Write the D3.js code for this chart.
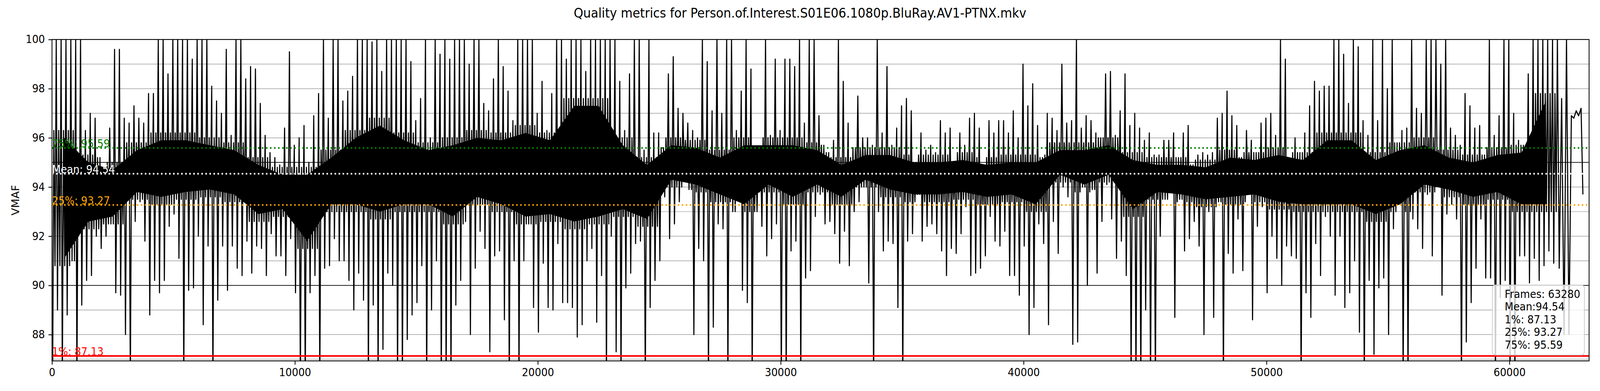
<!DOCTYPE html>
<html>
<head>
<meta charset="utf-8">
<script src="https://cdn.jsdelivr.net/npm/d3@7"></script>
<style>
  html, body { margin: 0; padding: 0; background: #fff; overflow: hidden; }
  #chart svg { display: block; width: 100vw; height: 100vh; }
  text { font-family: "DejaVu Sans", sans-serif; }
</style>
</head>
<body>
<div id="chart"></div>
<script>
// chart values
const chartTitle = "Quality metrics for Person.of.Interest.S01E06.1080p.BluRay.AV1-PTNX.mkv";
const totalFrames = 63280;
const bucketFrames = 200; // every entry below covers 200 frames

// highest vmaf seen inside each 200 frame bucket
const vmafHigh = [
  100,100,100,100,100,100,96.3,97,96.8,95.2, 94.3,96.4,99.6,99.6,96.8,96.6,97.3,96.8,96.6,97.8,
  97.8,100,100,98.6,100,100,100,100,99.2,100, 100,100,98.1,97.5,97,99.6,96.1,100,100,98.4,
  98.9,98.8,97.4,96.1,95.4,95.2,94.9,96.4,99.5,95.7, 96,96.5,95,96.9,97.8,100,96.8,100,100,97.5,
  97.9,98.5,100,100,100,99.9,100,98.7,100,100, 100,100,100,99.1,96.7,97.6,100,96,100,99.4,
  100,99.2,100,100,100,99,100,100,97.4,97.1, 98.4,100,98.9,97.9,96.7,100,100,100,100,97,
  98.3,96.3,97.8,100,100,99.2,100,100,100,98.7, 100,100,100,100,100,100,98.3,96.3,98.6,100,
  100,95.5,100,96.2,96.2,95.6,98.6,99.3,97.2,97, 96.6,96.3,96,100,99.1,97.1,100,97,100,100,
  96.3,97.9,100,98.8,95.3,95.3,100,96.1,99.2,96.3, 99.2,99.2,98.9,100,96.6,100,100,96.9,95.7,95.4,
  95.9,100,98.3,96.6,95.6,97.7,96,96,95.7,100, 96.2,98.9,95.7,96.4,97.3,97.6,97.1,95,96.2,95.5,
  95.7,95.4,96.7,96.2,96.4,94.8,96.2,95.7,96.8,97, 96.4,94.9,96.7,96.2,96.7,96.7,96.2,97.1,96,99,
  97.3,98.2,96.5,95.2,97,96.8,96.3,99,96.6,96.7, 100,96.4,96.9,96.7,96.2,96,98.6,98.7,96.1,97.1,
  98.6,96.5,97,96.4,95.9,96.2,95.3,95.3,95.9,95.9, 96.2,95.2,96.2,96.5,94.9,95.3,95.4,95.3,95.4,96.8,
  97,97.9,96.9,96.5,95.2,96.3,95.9,95.4,96.6,96.8, 97,96.1,100,99.2,94,96,95.4,96.2,97.3,98.3,
  97.9,98.1,98.1,100,100,99.4,97.4,100,99.7,96.7, 96.1,100,96.7,100,98,100,95.8,96.3,96.4,100,
  97.2,97,100,100,100,99,100,96.4,96.1,95.7, 97.8,97.3,96.4,96.5,95.3,100,96.1,96.9,100,100,
  97,95.9,95.7,98.6,100,100,100,100,100,100, 97.6,100,96.9,97.1,97.2,97.7,97.1
];

// lowest vmaf seen inside each 200 frame bucket (86 = falls below the axis)
const vmafLow = [
  86,89,86,88.8,91,86,89.2,90.2,90.4,92, 91.5,92,92.5,89.7,89.6,88,86,92.6,93.4,91.8,
  88.8,90.2,89.7,90.2,92.4,92.9,91.1,86,89.8,89.9, 92,88.4,91.6,86,89.4,91.6,89.8,91.6,90.7,90.4,
  91.8,90.5,91.6,91.5,90.4,92.1,91.2,91.2,90.4,91.9, 89.7,86,86,89.7,90.4,86,90.7,90.8,91.9,91,
  91,90.2,89,90.5,89.4,86,89.2,86,87.4,90.5, 90,86,86,87.8,88.8,89.3,90.8,86,89,91,
  86,86,86,89.2,90.2,92.6,88,90.7,92.2,91.5, 87.3,91.2,91.4,88.6,86,91,86,91,92.5,89.1,
  88.1,90.9,89.1,89,91.7,89.3,89.3,89.1,87.9,88.4, 91,91.5,88.5,90.4,86,92,87.3,86,89.9,90.5,
  91.7,91.8,86,89.1,90.2,91,93.6,91.9,92.5,93.4, 94.7,93.9,88,91.5,91,86,88.3,92.5,92.3,86,
  93,93.5,89.8,89.3,86,93,92.4,91.2,91.9,92.5, 86,86,91.4,91.8,86,90.3,90.6,92.8,93.7,92.5,
  92.6,92.1,90.9,92.2,90.8,93,93.4,94,90.1,86, 93,91.4,91.8,91.7,89.1,86,91.8,92.1,93.7,91.8,
  92.4,92.5,92.1,91.4,90.4,91.5,91.3,92.1,93.2,90.4, 90.5,90.7,91.2,92.8,91.8,91.6,92.2,90.4,90.4,89.6,
  91.6,88,89.1,92.5,91.7,88.4,92.6,91.3,94,93.6, 87.6,87.7,94,90,93.9,90.5,92.6,94.1,92.7,91.1,
  91.8,90.4,86,86,86,89,86,86,92,93.5, 94,88.7,93.5,91.4,91.9,92.6,91.6,88,93,88.7,
  93.4,86,91.3,90.5,92.7,90.6,94.3,88.6,92.4,93.2, 89.7,92,91.1,90,91.6,91.2,91.1,86,89.7,88.7,
  91.7,90.4,92.8,92,89.6,92,89.1,89.7,91,88.1, 86,90.2,87.2,89.9,90.3,88,92.3,93.4,86,86,
  92.7,92.3,91.5,93.7,91.2,94.3,89.6,92.9,93.3,92.7, 86,87.7,89.3,90.7,92.7,90.3,90.3,86,89.5,90.2,
  86,86,91.2,91.2,90.1,91.1,90.2,90.8,91.4,90.9, 90.7,88,88,96.8,96.9,93.7,95.6
];

// where the trace is densest in every 1000 frames (null = no dense band)
const coreFrames = 1000;
const coreHigh = [
  96.3,95.3,95,95.8,96.2,96.2,96,95.8, 95.2,94.8,94.8,95.5,96.3,96.8,96.2,95.8,
  96,96.3,96.2,96.5,96.2,97.6,97.6,96, 95.2,96,95.9,95.5,96,96,96,95.8,
  95.2,95.6,95.6,95.3,95.3,95.4,95.2,95.3, 95.3,95.8,95.8,96,95.4,95.2,95.2,95.1,
  95.5,95.4,95.6,95.4,96.2,96.2,95.4,95.8, 96,95.5,95.3,95.6,95.7,97.8,null
];
const coreLow = [
  90.8,92.3,92.5,93.5,93.3,93.5,93.6,93.4, 92.6,92.8,91.5,93,93,92.7,93,93,
  92.5,93.3,93,92.5,92.6,92.3,92.5,92.8, 92.4,94,93.8,93.4,93,93.8,93.3,93.8,
  93.3,94,93.6,93.4,93.4,93.5,93.3,93.4, 93,94.2,93.8,94.2,92.8,93.5,93.4,93.2,
  93.3,93.4,93.1,93,93,93,92.6,93, 93.8,93.6,93.3,93.5,93,93,null
];

const statNames = ["1%", "25%", "Mean", "75%"];
const statValues = [87.13, 93.27, 94.54, 95.59];
const legendLines = ["Frames: 63280", "Mean:94.54", "1%: 87.13", "25%: 93.27", "75%: 95.59"];

const yDomain = [86.93, 100];
const yTicks = [88, 90, 92, 94, 96, 98, 100];
const xTicks = [0, 10000, 20000, 30000, 40000, 50000, 60000];

// styling for the statistic lines, keyed by name
const statStyle = {
  "1%": {color: "#ff0000", dash: null},
  "25%": {color: "#ffa500", dash: "4.2,6.9"},
  "Mean": {color: "#ffffff", dash: "4.2,6.9"},
  "75%": {color: "#008000", dash: "4.2,6.9"}
};

const W = 4400, H = 1000;
const margin = {top: 101, right: 30, bottom: 77, left: 143};
const fontSize = 27.8;
const coreInset = 0.3; // the solid part sits a bit inside the dense band

// the svg keeps a 4400x1000 drawing space and is stretched over the window
const svg = d3.select("#chart").append("svg")
  .attr("viewBox", `0 0 ${W} ${H}`)
  .attr("preserveAspectRatio", "none")
  .style("background", "#fff");

const x = d3.scaleLinear().domain([0, totalFrames]).range([margin.left, W - margin.right]);
const y = d3.scaleLinear().domain(yDomain).range([H - margin.bottom, margin.top]);
const [px0, px1] = x.range();
const [py0, py1] = y.range();

svg.append("clipPath").attr("id", "plot-clip")
  .append("rect")
  .attr("x", px0).attr("y", py1)
  .attr("width", px1 - px0).attr("height", py0 - py1);

// grid, every unit in gray, every five in black
const gridValues = d3.range(Math.ceil(yDomain[0]), yDomain[1]);
svg.append("g").selectAll("line")
  .data(gridValues)
  .join("line")
  .attr("x1", px0).attr("x2", px1)
  .attr("y1", d => y(d)).attr("y2", d => y(d))
  .attr("stroke", d => d % 5 === 0 ? "#000" : "#8a8a8a")
  .attr("stroke-width", d => d % 5 === 0 ? 1.8 : 1.2);

const plot = svg.append("g").attr("clip-path", "url(#plot-clip)");

// solid middle of the dense band
const corePoints = coreHigh.map((hi, i) => [
  Math.min(i * coreFrames + coreFrames / 2, totalFrames), coreLow[i], hi
]);
const coreArea = d3.area()
  .defined(d => d[2] !== null)
  .x(d => x(d[0]))
  .y0(d => y(d[1] + coreInset))
  .y1(d => y(d[2] - coreInset));
plot.append("path")
  .datum(corePoints)
  .attr("fill", "#000")
  .attr("d", coreArea);

// trace: in every bucket go to the low, through the dense band, then to the high
const tracePoints = [];
vmafLow.forEach((lo, i) => {
  const hi = vmafHigh[i];
  const start = i * bucketFrames;
  const span = Math.min(start + bucketFrames, totalFrames) - start;
  const c = Math.floor(start / coreFrames);
  if (coreHigh[c] === null) {
    tracePoints.push([start + span * 0.25, lo]);
    tracePoints.push([start + span * 0.75, hi]);
  } else {
    tracePoints.push([start + span * 0.125, lo]);
    tracePoints.push([start + span * 0.375, Math.min(coreHigh[c], hi)]);
    tracePoints.push([start + span * 0.625, Math.max(coreLow[c], lo)]);
    tracePoints.push([start + span * 0.875, hi]);
  }
});
const traceLine = d3.line()
  .x(d => x(d[0]))
  .y(d => y(d[1]));
plot.append("path")
  .datum(tracePoints)
  .attr("fill", "none")
  .attr("stroke", "#000")
  .attr("stroke-width", 3)
  .attr("stroke-linejoin", "round")
  .attr("d", traceLine);

// statistic lines and their labels
statNames.forEach((name, i) => {
  const st = statStyle[name];
  plot.append("line")
    .attr("x1", px0).attr("x2", px1)
    .attr("y1", y(statValues[i])).attr("y2", y(statValues[i]))
    .attr("stroke", st.color)
    .attr("stroke-width", 4.2)
    .attr("stroke-dasharray", st.dash);
  svg.append("text")
    .attr("x", px0)
    .attr("y", y(statValues[i]) - 1)
    .attr("fill", st.color)
    .attr("font-size", fontSize)
    .text(`${name}: ${statValues[i].toFixed(2)}`);
});

// axes
const yAxis = svg.append("g")
  .attr("transform", `translate(${px0},0)`)
  .call(d3.axisLeft(y).tickValues(yTicks).tickSize(9.7).tickPadding(9.7));
const xAxis = svg.append("g")
  .attr("transform", `translate(0,${py0})`)
  .call(d3.axisBottom(x).tickValues(xTicks).tickFormat(d3.format("d")).tickSize(9.7).tickPadding(9.7));
[yAxis, xAxis].forEach(a => {
  a.select(".domain").remove();
  a.attr("font-family", "DejaVu Sans").attr("font-size", fontSize);
  a.selectAll(".tick line").attr("stroke", "#000").attr("stroke-width", 2.2);
  a.selectAll(".tick text").attr("fill", "#000");
});

// frame
svg.append("rect")
  .attr("x", px0).attr("y", py1)
  .attr("width", px1 - px0).attr("height", py0 - py1)
  .attr("fill", "none")
  .attr("stroke", "#000")
  .attr("stroke-width", 2.2);

// labels
svg.append("text")
  .attr("transform", `translate(53,${(py0 + py1) / 2}) rotate(-90)`)
  .attr("text-anchor", "middle")
  .attr("font-size", fontSize)
  .text("VMAF");

svg.append("text")
  .attr("x", W / 2)
  .attr("y", 45)
  .attr("text-anchor", "middle")
  .attr("font-size", 33.3)
  .text(chartTitle);

// legend box in the lower right corner
const legendW = 253, legendH = 179;
const legend = svg.append("g")
  .attr("transform", `translate(${px1 - 13 - legendW},${py0 - 15 - legendH})`);
legend.append("rect")
  .attr("width", legendW).attr("height", legendH)
  .attr("rx", 8)
  .attr("fill", "#fff")
  .attr("fill-opacity", 0.8)
  .attr("stroke", "#cccccc")
  .attr("stroke-width", 2);
legend.selectAll("text")
  .data(legendLines)
  .join("text")
  .attr("x", 34)
  .attr("y", (d, i) => 33 + i * 32.5)
  .attr("font-size", fontSize)
  .attr("fill", "#000")
  .text(d => d);
</script>
</body>
</html>
